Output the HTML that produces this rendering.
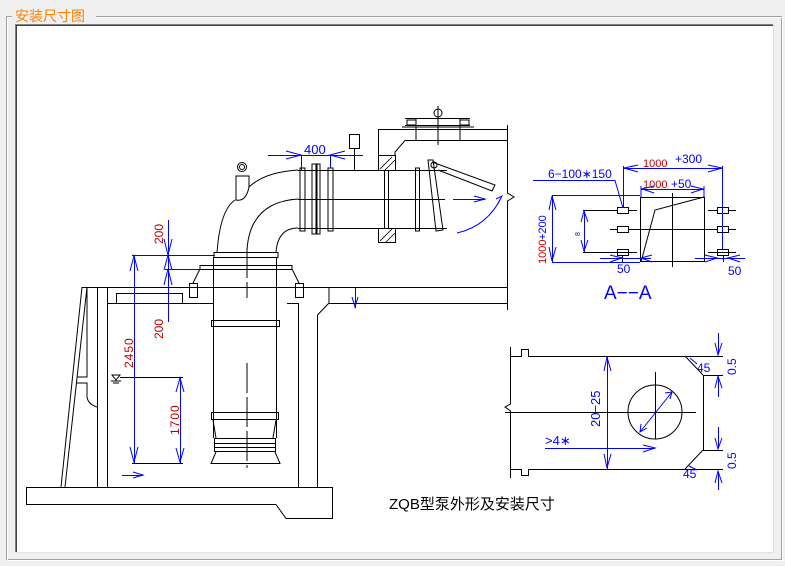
<!DOCTYPE html>
<html><head><meta charset="utf-8"><style>
html,body{margin:0;padding:0;background:#f0f0f0;}
body{width:785px;height:566px;position:relative;overflow:hidden;font-family:"Liberation Sans","Noto Sans CJK SC",sans-serif;}
</style></head><body>
<svg width="785" height="566" viewBox="0 0 785 566" xmlns="http://www.w3.org/2000/svg" style="position:absolute;left:0;top:0">
<!-- frame -->
<rect x="6.5" y="16.5" width="775" height="543" fill="none" stroke="#a0a0a0"/>
<rect x="7.5" y="17.5" width="775" height="543" fill="none" stroke="#fff"/>
<rect x="12" y="8" width="84" height="14" fill="#f0f0f0"/>
<text x="15" y="21" font-size="14" fill="#ff8000" font-family="'Noto Sans CJK SC',sans-serif">安装尺寸图</text>
<rect x="15" y="24" width="759" height="529" fill="#fff"/>
<path d="M15.5,553 V24.5 H774" stroke="#808080" fill="none"/>
<path d="M16.5,553 V25.5 H774" stroke="#404040" fill="none"/>
<path d="M15,552.5 H773.5 V24" stroke="#e0e0e0" fill="none"/>

<g stroke="#000" stroke-width="1" fill="none">
<!-- base slab -->
<path d="M26,487.5 H332.5 V518.5 H286 L276,504.5 H26.5 V487.5"/>
<!-- left sloped wall -->
<path d="M82,287 L61,487 M87,287 L65,487"/>
<path d="M87,287 V377 H77 M77,383 H87 V397 Q88,404 97,407"/>
<!-- floor -->
<path d="M82,287.5 H507"/>
<path d="M107,303.5 H213 M287,303.5 H298 M329,303.5 H507"/>
<path d="M97.5,287 V487 M107.5,287 V487"/>
<path d="M298.5,303 V487 M317.5,487 V315 L329,303 V287"/>
<rect x="116.5" y="293.5" width="66" height="10"/>
<!-- right wall -->
<path d="M507.5,125 V193 L514,197 L507.5,201 V310"/>
<!-- pump column -->
<path d="M213.5,257 V438 M276.5,257 V438"/>
<rect x="214" y="252.5" width="64" height="5"/>
<rect x="200" y="265.5" width="92" height="4"/>
<path d="M200,269 L193,283 M292,269 L299,283"/>
<rect x="189.5" y="283.5" width="8" height="14"/><rect x="295.5" y="283.5" width="8" height="14"/>
<rect x="211.5" y="320.5" width="68" height="6"/>
<rect x="211.5" y="412.5" width="67" height="7"/>
<path d="M213,420 L216,438 M276,420 L273,438"/>
<rect x="214.5" y="438.5" width="61" height="13"/>
<path d="M214.5,443.5 H275.5 M214.5,447.5 H275.5"/>
<path d="M216,452 L211,463.5 H280 L275,452"/>
<path d="M247,248 V298 M247,363 V468" stroke-dasharray="30,4"/>
<!-- elbow -->
<path d="M217,253 Q220,210 235,200"/>
<path d="M249,187 Q265,172 298,170"/>
<path d="M247,250 Q250,202 298,199"/>
<path d="M276,252 Q278,228 298,228"/>
<!-- lift eye -->
<circle cx="242" cy="167" r="4.5"/><circle cx="242" cy="167" r="2.5"/>
<path d="M236,176 V200 Q246,202 249,187 V176 Z"/>
<!-- horizontal pipe -->
<path d="M298,170.5 H447 M298,228.5 H447 M298,199.5 H445"/>
<rect x="300" y="168" width="5" height="63"/>
<rect x="312" y="164" width="5" height="70"/><rect x="316" y="164" width="4" height="70"/>
<rect x="328" y="168" width="5" height="63"/>
<rect x="384.5" y="163" width="4" height="72"/>
<rect x="415.5" y="168" width="4" height="63"/>
<path d="M428,160 L436,231 L443,230 L433,160 Z"/>
<path d="M432,162 L495,185 L492,191 L438,170"/>
<circle cx="434" cy="165" r="3"/>
<!-- valve post -->
<rect x="349.5" y="134.5" width="10" height="14"/>
<path d="M354.5,148 V170"/>
<!-- wall structure -->
<path d="M378.5,155 V129.5 H507 M405,140.5 H507 M405,140.5 L395,152 V170"/>
<rect x="378.5" y="155.5" width="17" height="15" fill="#fff"/>
<rect x="378.5" y="228.5" width="17" height="14" fill="#fff"/>
<path d="M380,169 L392,157 M385,170 L395,160 M380,241 L392,229 M386,242 L395,233" stroke-width=".8"/>
<!-- hoist -->
<path d="M405,118.5 H470 M405,125.5 H470 M402,127 H474 M416,118 V140 M460,118 V140 M438,106 V145"/>
<rect x="407" y="120" width="9" height="5"/><rect x="460" y="120" width="9" height="5"/>
<circle cx="438" cy="113" r="4"/>
<!-- water symbol -->
<path d="M112,375 H120 L116,380 Z M111,381 H121 M113,383 H119"/>
<path d="M120,377.5 H183"/>
<path d="M132,463.5 H183"/>
<!-- section A-A -->
<rect x="640.5" y="197.5" width="64" height="64"/>
<path d="M672.5,193 V267" />
<path d="M610,229.5 H736"/>
<path d="M641,262 L655,210 L704,197"/>
<path d="M583,210.5 H637 M708,210.5 H736 M583,252.5 H637 M708,252.5 H736"/>
<rect x="617.5" y="207.5" width="11" height="6" fill="#fff"/><rect x="617.5" y="226.5" width="11" height="6" fill="#fff"/><rect x="617.5" y="249.5" width="11" height="6"/>
<rect x="717.5" y="207.5" width="11" height="6" fill="#fff"/><rect x="717.5" y="226.5" width="11" height="6" fill="#fff"/><rect x="717.5" y="249.5" width="11" height="6"/>
<path d="M622.5,255 V262 M723.5,255 V262"/>
<!-- lower detail -->
<path d="M510.5,347 V404 L505,407 L510.5,411 V478"/>
<path d="M510,356.5 H521.5 V349.5 H528.5 V356.5 H723"/>
<path d="M510,469.5 H521.5 V475.5 H528.5 V469.5 H723"/>
<path d="M703.5,375 V450 M685,356 L703,375 M685,469 L703,450 M703,375.5 H723 M703,450.5 H723"/>
<circle cx="655" cy="412" r="27"/>
<path d="M505,412.5 H696 M655.5,372 V439"/>
</g>

<!-- blue dimensions -->
<g stroke="#0000ff" stroke-width="1" fill="none">
<path d="M268,155.5 H363 M301.5,155 V170 M330.5,155 V168"/>
<path d="M286,151 L301,155 L286,159 M345,151 L330,155 L345,159"/>
<path d="M168.5,220 V322"/>
<path d="M132,255.5 H215 M165,269.5 H200"/>
<path d="M164,239 L168,255 L172,239 M164,285 L168,269 L172,285 M164,270 L168,255 L172,270"/>
<path d="M134.5,255 V463 M130,271 L134,256 L138,271 M130,447 L134,462 L138,447"/>
<path d="M180.5,377 V463 M176,392 L180,378 L184,392 M176,448 L180,462 L184,448"/>
<path d="M122,475.5 H143 M133,472 L143,475 L133,478"/>
<path d="M355.5,288 V308 M352,297 L355,307 L358,297"/>
<path d="M453,199.5 H485 M474,196 L485,199 L474,202"/>
<path d="M457,233 Q488,226 502,196 M497,205 L502,196 L496,199"/>
<!-- A-A dims -->
<path d="M623.5,166 V208 M722.5,166 V250 M623,168.5 H722 M638,165 L624,168 L638,172 M708,165 L722,168 L708,172"/>
<path d="M641,189.5 H704 M654,186 L642,189 L654,193 M691,186 L703,189 L691,193 M641,186 V197 M704,186 V197"/>
<path d="M533,180.5 H615 L623,208"/>
<path d="M552.5,195 V262 M552,195.5 H640 M552,262.5 H640 M549,210 L552,196 L556,210 M549,247 L552,261 L556,247"/>
<path d="M584.5,210 V252 M581,222 L584,211 L588,222 M581,240 L584,251 L588,240"/>
<path d="M600,258.5 H651 M610,255 L622,258 L610,262 M652,255 L641,258 L652,262"/>
<path d="M695,258.5 H745 M705,255 L717,258 L705,262 M740,255 L728,258 L740,262"/>
<!-- lower dims -->
<path d="M607.5,356 V469 M604,371 L607,357 L611,371 M604,454 L607,468 L611,454"/>
<path d="M545,448.5 H655 M643,445 L655,448 L643,452"/>
<path d="M640,432 L672,392 M641,424 L640,432 L647,428 M665,393 L672,392 L670,399"/>
<path d="M718.5,333 V354 M715,343 L718,355 L722,343 M718.5,377 V397 M715,388 L718,376 L722,388"/>
<path d="M718.5,427 V448 M715,438 L718,449 L722,438 M718.5,472 V490 M715,483 L718,471 L722,483"/>
<path d="M690,358 L697,364 M689,466 L697,470"/>
</g>

<g font-family="'Liberation Sans',sans-serif">
<text x="304" y="154" font-size="13" fill="#00f">400</text>
<text transform="translate(163,244) rotate(-90)" font-size="12" fill="#c00000">200</text>
<text transform="translate(163,339) rotate(-90)" font-size="12" fill="#c00000">200</text>
<text transform="translate(133,368) rotate(-90)" font-size="12" fill="#c00000" letter-spacing="1">2450</text>
<text transform="translate(179,435) rotate(-90)" font-size="12" fill="#c00000" letter-spacing="1">1700</text>
<text x="643" y="167" font-size="11" fill="#c00000">1000</text>
<text x="675" y="163" font-size="12" fill="#00f">+300</text>
<text x="643" y="188" font-size="11" fill="#c00000">1000</text>
<text x="671" y="188" font-size="12" fill="#00f">+50</text>
<text x="548" y="178" font-size="12" fill="#00f">6−100∗150</text>
<text transform="translate(546,264) rotate(-90)" font-size="11" fill="#c00000">1000</text>
<text transform="translate(546,240) rotate(-90)" font-size="11" fill="#00f">+200</text>
<text transform="translate(580,236) rotate(-90)" font-size="7" fill="#00f">8</text>
<text x="617" y="273" font-size="12" fill="#00f">50</text>
<text x="728" y="275" font-size="12" fill="#00f">50</text>
<text x="604" y="299" font-size="19" fill="#00f">A−−A</text>
<text transform="translate(600,427) rotate(-90)" font-size="13" fill="#00f">20−25</text>
<text x="545" y="445" font-size="13" fill="#00f">&gt;4∗</text>
<text x="697" y="372" font-size="12" fill="#00f">45</text>
<text x="683" y="478" font-size="12" fill="#00f">45</text>
<text transform="translate(736,375) rotate(-90)" font-size="12" fill="#00f">0.5</text>
<text transform="translate(736,469) rotate(-90)" font-size="12" fill="#00f">0.5</text>
<text x="389" y="509" font-size="15" fill="#000" font-family="'Liberation Sans','Noto Sans CJK SC',sans-serif">ZQB型泵外形及安装尺寸</text>
</g>
</svg>
</body></html>
